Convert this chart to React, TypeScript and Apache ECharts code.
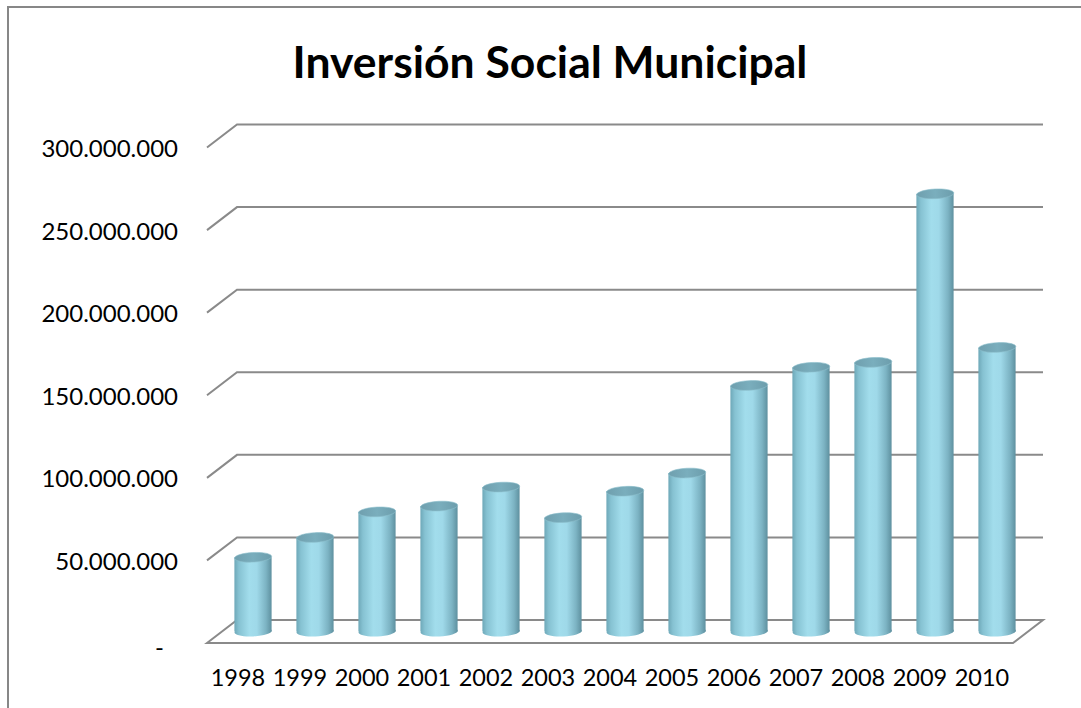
import React, { useEffect, useRef } from "react";
import * as echarts from "echarts";

const categories = ["1998", "1999", "2000", "2001", "2002", "2003", "2004", "2005", "2006", "2007", "2008", "2009", "2010"];
const values = [45e6, 57e6, 72.5e6, 76e6, 87.5e6, 69e6, 85e6, 96e6, 149e6, 160e6, 163e6, 265e6, 172e6];
const yTicks = [0, 50e6, 100e6, 150e6, 200e6, 250e6, 300e6];
const titleText = "Inversión Social Municipal";

const FONT = "Lato, 'Open Sans', sans-serif";
const DX = 30;
const DY = 23;
const GRID_COLOR = "#8a8a8a";

function fmt(v: number): string {
  if (v === 0) return "{d|-}";
  return String(Math.round(v)).replace(/\B(?=(\d{3})+(?!\d))/g, ".");
}

export default function App() {
  const ref = useRef<HTMLDivElement>(null);
  useEffect(() => {
    if (!ref.current) return;
    const chart = echarts.init(ref.current, undefined, { renderer: "svg" });
    const last = categories.length - 1;

    const bodyFill = {
      type: "linear", x: 0, y: 0, x2: 1, y2: 0,
      colorStops: [
        { offset: 0, color: "#6ea8b8" },
        { offset: 0.12, color: "#86c2d2" },
        { offset: 0.4, color: "#a2ddec" },
        { offset: 0.6, color: "#9fd9e9" },
        { offset: 0.85, color: "#7cb3c3" },
        { offset: 1, color: "#5e909f" },
      ],
    };
    const topFill = {
      type: "linear", x: 0, y: 0, x2: 1, y2: 0,
      colorStops: [
        { offset: 0, color: "#6f9fae" },
        { offset: 0.5, color: "#7aaebd" },
        { offset: 1, color: "#6c9dac" },
      ],
    };

    chart.setOption({
      animation: false,
      backgroundColor: "#ffffff",
      title: {
        text: titleText,
        left: 545,
        top: 33,
        textAlign: "center",
        textStyle: { fontFamily: FONT, fontWeight: "bold", fontSize: 44.5, color: "#000" },
      },
      grid: { left: 207, right: 68, top: 147.5, bottom: 65 },
      xAxis: {
        type: "category",
        data: categories,
        axisLine: { show: false },
        axisTick: { show: false },
        splitLine: { show: false },
        axisLabel: { interval: 0, fontFamily: FONT, fontSize: 23.5, lineHeight: 24, color: "#000", margin: 22 },
      },
      yAxis: {
        type: "value",
        min: 0,
        max: 300e6,
        interval: 50e6,
        axisLine: { show: false },
        axisTick: { show: false },
        splitLine: { show: false },
        axisLabel: {
          fontFamily: FONT,
          fontSize: 24,
          color: "#000",
          margin: 29,
          formatter: fmt,
          rich: { d: { fontFamily: FONT, fontSize: 24, color: "#000", padding: [6, 14, 0, 0] } },
        },
      },
      graphic: [
        {
          type: "line",
          shape: { x1: 8, y1: 7, x2: 1081, y2: 7 },
          style: { stroke: "#878787", lineWidth: 2 },
          silent: true,
        },
        {
          type: "line",
          shape: { x1: 8, y1: 6, x2: 8, y2: 708 },
          style: { stroke: "#878787", lineWidth: 2 },
          silent: true,
        },
      ],
      series: [
        {
          type: "custom",
          name: "walls",
          z: 1,
          silent: true,
          data: yTicks.map((v) => [0, v]),
          renderItem: (params: any, api: any) => {
            const v = api.value(1);
            const p = api.coord([0, v]);
            const band = api.size([1, 0])[0];
            const xL = p[0] - band / 2;
            const xR = api.coord([last, v])[0] + band / 2;
            const y = p[1];
            if (v === 0) {
              return {
                type: "polygon",
                shape: { points: [[xL, y], [xL + DX, y - DY], [xR + DX, y - DY], [xR, y]] },
                style: { fill: "#ffffff", stroke: GRID_COLOR, lineWidth: 2 },
              };
            }
            return {
              type: "polyline",
              shape: { points: [[xL, y], [xL + DX, y - DY], [xR + DX, y - DY]] },
              style: { fill: "none", stroke: GRID_COLOR, lineWidth: 2 },
            };
          },
        },
        {
          type: "custom",
          name: "Inversión Social Municipal",
          z: 2,
          data: values.map((v, i) => [i, v]),
          renderItem: (params: any, api: any) => {
            const i = api.value(0);
            const v = api.value(1);
            const top = api.coord([i, v]);
            const base = api.coord([i, 0]);
            const band = api.size([1, 0])[0];
            const w = band * 0.6;
            const rx = w / 2;
            const ry = 4.8;
            const cx = top[0] + DX / 2;
            const ty = top[1] - DY / 2;
            const by = base[1] - DY / 2;
            return {
              type: "group",
              children: [
                {
                  type: "ellipse",
                  shape: { cx, cy: by, rx, ry },
                  rotation: 0.05,
                  originX: cx,
                  originY: by,
                  style: { fill: bodyFill },
                },
                {
                  type: "rect",
                  shape: { x: cx - rx, y: ty, width: w, height: by - ty },
                  style: { fill: bodyFill },
                },
                {
                  type: "ellipse",
                  shape: { cx, cy: ty, rx, ry },
                  rotation: 0.05,
                  originX: cx,
                  originY: ty,
                  style: { fill: topFill, stroke: "#8cbfcd", lineWidth: 0.6 },
                },
              ],
            };
          },
        },
      ],
    });
    return () => chart.dispose();
  }, []);
  return <div ref={ref} style={{ position: "fixed", left: 0, top: 0, width: 1081, height: 708 }} />;
}
